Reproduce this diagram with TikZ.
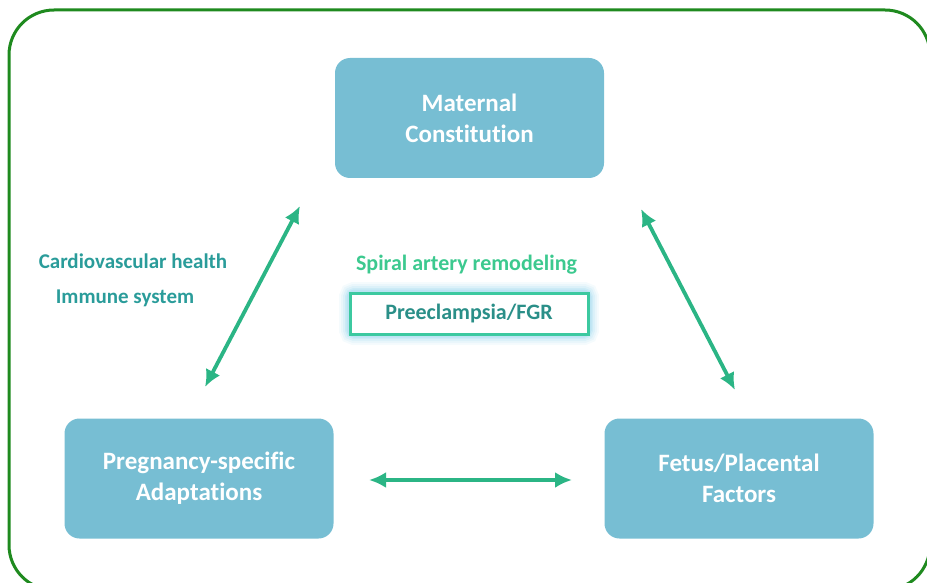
\documentclass[tikz,border=0pt]{standalone}
\usepackage{fontspec}
\setmainfont{Carlito}[Ligatures=NoCommon]
\usetikzlibrary{arrows.meta}
\definecolor{boxblue}{HTML}{77BED3}
\definecolor{framegreen}{HTML}{1F8A1F}
\definecolor{arrowgreen}{HTML}{2BB585}
\definecolor{tealtext}{HTML}{2A9C9A}
\definecolor{spiralgreen}{HTML}{3CC98F}
\definecolor{preborder}{HTML}{3CC9A0}
\definecolor{pretext}{HTML}{2A8F88}
\definecolor{glow}{HTML}{9ED8EE}
\tikzset{
  mainbox/.style={fill=boxblue, rounded corners=15pt, minimum width=269pt, minimum height=120pt,
    text=white, font=\bfseries\fontsize{25}{31}\selectfont, align=center, inner sep=0pt},
  dblarrow/.style={arrowgreen, line width=3.8pt, {Latex[length=17pt,width=16pt]}-{Latex[length=17pt,width=16pt]}},
  sidetext/.style={text=tealtext, font=\bfseries\fontsize{21}{24}\selectfont, inner sep=0pt},
}
\begin{document}
\begin{tikzpicture}[x=1pt,y=-1pt]
\useasboundingbox (0,0) rectangle (927,583);
\begin{scope}
\clip (0,0) rectangle (927,583);
\draw[framegreen, line width=3pt, rounded corners=45pt] (9,10) rectangle (930,590);
\end{scope}
\node[mainbox] (mat) at (469.5,118) {Maternal\\Constitution};
\node[mainbox] (preg) at (199,478.5) {Pregnancy-specific\\Adaptations};
\node[mainbox] (fet) at (739,478.5) {Fetus/Placental\\Factors};
\coordinate (la) at (205,387);
\coordinate (lb) at (300,206);
\coordinate (ra) at (641,209);
\coordinate (rb) at (735,390);
\coordinate (ba) at (369,480);
\coordinate (bb) at (572,480);
\draw[dblarrow] (la) -- (lb);
\draw[dblarrow] (ra) -- (rb);
\draw[dblarrow] (ba) -- (bb);
\node[sidetext] (cv) at (133,261) {Cardiovascular health};
\node[sidetext] (im) at (125,298) {Immune system};
\node[text=spiralgreen, font=\bfseries\fontsize{22}{26}\selectfont, inner sep=0pt] (sp) at (466.5,265) {Spiral artery remodeling};
\foreach \w/\o in {20/0.1,16/0.13,12/0.18,8/0.25,5/0.35}{
  \draw[glow, line width=\w pt, opacity=\o, rounded corners=5pt] (349,292) rectangle (589,335);
}
\node[draw=preborder, line width=3pt, fill=white, minimum width=238pt, minimum height=41pt, inner sep=0pt,
  text=pretext, font=\bfseries\fontsize{22}{26}\selectfont] (pe) at (469,313.5) {Preeclampsia/FGR};
\end{tikzpicture}
\end{document}
